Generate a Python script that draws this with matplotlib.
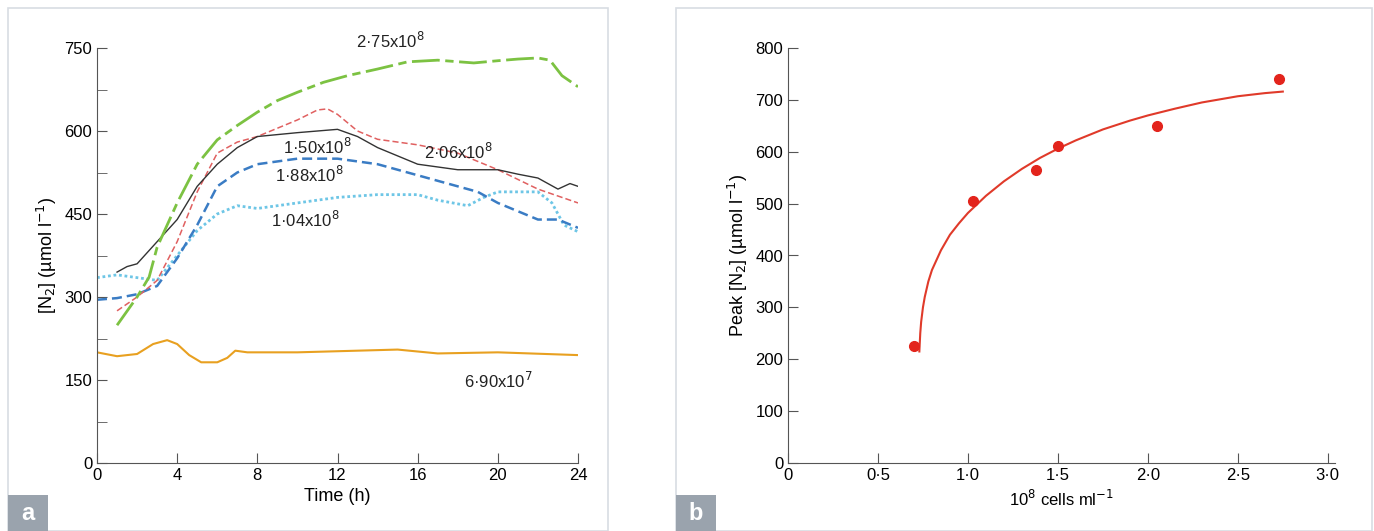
import matplotlib
matplotlib.use("Agg")
import matplotlib.pyplot as plt
from matplotlib.patches import Rectangle

plt.rcParams['font.family'] = ['Liberation Sans', 'DejaVu Sans']

t_green = [1, 2, 2.6, 3, 4, 5, 6, 7, 8, 9, 10, 11.3, 12.5, 14, 15.5, 17, 18.8, 20, 21, 22, 22.6, 23.2, 24]
v_green = [249, 300, 336, 390, 470, 540, 584, 610, 634, 655, 670, 688, 700, 712, 725, 728, 723, 727, 730, 732, 728, 700, 680]
t_black = [1, 1.5, 2, 3, 4, 5, 6, 7, 8, 10, 11, 12, 13, 14, 16, 18, 20, 21, 22, 23, 23.6, 24]
v_black = [345, 355, 360, 400, 440, 500, 540, 570, 590, 597, 600, 603, 590, 570, 540, 530, 530, 522, 515, 495, 505, 500]
t_red = [1, 2, 3, 4, 5, 6, 7, 8, 10, 11, 11.5, 12, 13, 14, 16, 18, 20, 22, 24]
v_red = [275, 300, 330, 400, 490, 560, 580, 590, 620, 638, 640, 630, 600, 585, 575, 560, 530, 495, 470]
t_blue = [0, 1, 2, 3, 4, 5, 6, 7, 8, 10, 12, 14, 16, 18, 19, 20, 22, 23, 24]
v_blue = [295, 298, 305, 320, 370, 430, 500, 525, 540, 550, 550, 540, 520, 500, 490, 470, 440, 440, 425]
t_cyan = [0, 1, 2, 3, 4, 5, 6, 7, 8, 10, 12, 14, 16, 17, 18.5, 19.3, 20, 22, 22.7, 23.3, 24]
v_cyan = [335, 340, 335, 330, 375, 420, 450, 465, 460, 470, 480, 485, 485, 475, 465, 480, 490, 490, 470, 430, 418]
t_orange = [0, 1, 2, 2.8, 3.5, 4, 4.6, 5.2, 6, 6.5, 6.9, 7.5, 10, 15, 17, 20, 24]
v_orange = [200, 193, 197, 215, 222, 215, 195, 182, 182, 190, 203, 200, 200, 205, 198, 200, 195]

cells = [0.70, 1.03, 1.38, 1.50, 2.05, 2.73]
peak = [225, 505, 565, 612, 650, 740]
fit_x = [0.73, 0.735, 0.74, 0.75, 0.76, 0.78, 0.8, 0.85, 0.9, 0.95, 1.0, 1.1, 1.2, 1.3, 1.4, 1.5, 1.6,
         1.75, 1.9, 2.0, 2.15, 2.3, 2.5, 2.65, 2.75]
fit_y = [215, 250, 272, 300, 320, 350, 372, 410, 440, 462, 482, 515, 543, 567, 588, 606, 622,
         643, 660, 670, 683, 695, 707, 713, 716]

fig = plt.figure(figsize=(13.74, 5.31), dpi=100)
W, H = 1374, 531
def ax_at(l, t, r, b):
    return fig.add_axes([l / W, 1 - b / H, (r - l) / W, (b - t) / H])

for (l, r) in [(8, 608), (676, 1372)]:
    fig.add_artist(Rectangle((l / W, 0), (r - l) / W, (H - 8) / H, transform=fig.transFigure,
                             fill=False, ec='#d8dde3', lw=1.2))
for (l, lab) in [(8, 'a'), (676, 'b')]:
    fig.add_artist(Rectangle((l / W, 0), 40 / W, 36 / H, transform=fig.transFigure,
                             color='#9aa3ad', lw=0))
    fig.text((l + 20) / W, 17 / H, lab, color='white', fontsize=17, fontweight='bold',
             ha='center', va='center')

ax = ax_at(97, 48, 578, 463)
ax.plot(t_orange, v_orange, color='#e8a020', lw=1.5)
ax.plot(t_cyan, v_cyan, color='#6ec6e6', lw=2, ls=(0, (1, 1)))
ax.plot(t_blue, v_blue, color='#3a7cc4', lw=1.8, ls=(0, (4, 2)))
ax.plot(t_red, v_red, color='#e06060', lw=1.1, ls=(0, (4, 2)))
ax.plot(t_black, v_black, color='#333333', lw=1)
ax.plot(t_green, v_green, color='#7cc242', lw=2, ls=(0, (10, 2, 3, 2)))
ax.set_xlim(0, 24)
ax.set_ylim(0, 750)
ax.set_xticks(range(0, 25, 4))
ax.set_yticks(range(0, 751, 150))
ax.set_yticks(range(0, 751, 75), minor=True)
ax.set_xlabel('Time (h)', fontsize=13)
ax.set_ylabel(r'[N$_2$] (µmol l$^{-1}$)', fontsize=13)
for txt, x, y in [('2·75x10$^8$', 12.9, 762), ('1·50x10$^8$', 9.3, 572), ('2·06x10$^8$', 16.3, 562),
                  ('1·88x10$^8$', 8.9, 520), ('1·04x10$^8$', 8.7, 440), ('6·90x10$^7$', 18.3, 148)]:
    ax.text(x, y, txt, fontsize=12, color='#222222', va='center')

ax2 = ax_at(788, 48, 1335, 463)
ax2.plot(fit_x, fit_y, color='#e03a2a', lw=1.5)
ax2.plot(cells, peak, 'o', color='#e3241c', ms=7)
ax2.set_xlim(0, 3.04)
ax2.set_ylim(0, 800)
ax2.set_xticks([0, 0.5, 1.0, 1.5, 2.0, 2.5, 3.0])
ax2.set_xticklabels(['0', '0·5', '1·0', '1·5', '2·0', '2·5', '3·0'])
ax2.set_yticks(range(0, 801, 100))
ax2.set_xlabel(r'10$^8$ cells ml$^{-1}$', fontsize=12)
ax2.set_ylabel(r'Peak [N$_2$] (µmol l$^{-1}$)', fontsize=13)

for a in (ax, ax2):
    for s in ('top', 'right'):
        a.spines[s].set_visible(False)
    for s in ('left', 'bottom'):
        a.spines[s].set_color('#555555')
    a.tick_params(direction='in', length=7, labelsize=12, color='#555555')
    a.tick_params(which='minor', direction='in', length=7, color='#555555')

fig.savefig('out.png', dpi=100)
